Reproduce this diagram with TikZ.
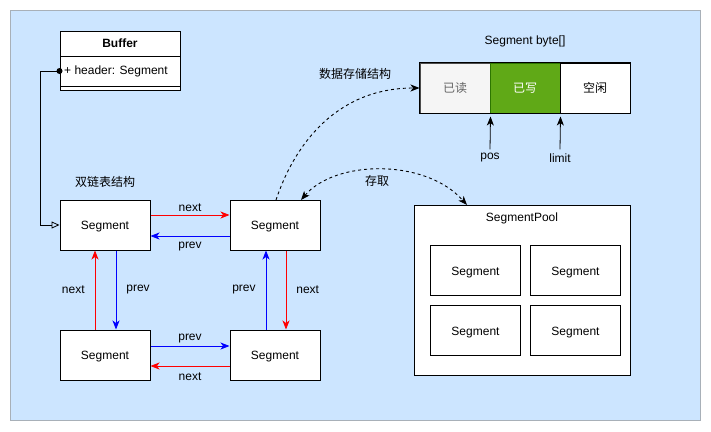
\documentclass[tikz,border=0pt]{standalone}
\usepackage{fontspec}
\setmainfont{Liberation Sans}
\newfontfamily\cjk{Noto Sans CJK SC}
\usetikzlibrary{arrows.meta,calc}
\definecolor{bgblue}{HTML}{CCE5FF}
\definecolor{bgline}{HTML}{A8B0B8}
\definecolor{readfill}{HTML}{F5F5F5}
\definecolor{readtext}{HTML}{666666}
\definecolor{wfill}{HTML}{60A917}
\definecolor{wline}{HTML}{2D7600}
\begin{document}
\begin{tikzpicture}[x=1pt,y=-1pt,
  every node/.style={font=\fontsize{12}{14}\selectfont},
  seg/.style={draw,fill=white,line width=1pt,minimum width=90pt,minimum height=50pt,inner sep=0pt,text height=10.5pt,text depth=1pt},
  cell/.style={draw,line width=1pt,minimum width=70pt,minimum height=50pt,inner sep=0pt,text height=10.5pt,text depth=1pt},
  lbl/.style={inner sep=1pt},
  atip/.style={-{Stealth[length=9pt,width=7pt,inset=2.5pt]}},
  dtip/.style={{Stealth[length=9pt,width=7pt,inset=2.5pt]}-{Stealth[length=9pt,width=7pt,inset=2.5pt]}},
  rl/.style={red,line width=0.8pt,atip},
  bl/.style={blue,line width=0.8pt,atip},
  dashline/.style={dash pattern=on 3pt off 3pt,line width=0.9pt}
]
\useasboundingbox (0,0) rectangle (711,431);
\node[draw=bgline,fill=bgblue,line width=1pt,minimum width=690pt,minimum height=410pt,inner sep=0pt] (bg) at (355,215) {};

% Buffer class
\node[draw,fill=white,line width=1pt,minimum width=120pt,minimum height=25pt,inner sep=0pt,font=\fontsize{12}{14}\selectfont\bfseries] (bufhead) at (120,43.5) {Buffer};
\node[draw,fill=white,line width=1pt,minimum width=120pt,minimum height=30pt,inner sep=0pt] (bufattr) at (120,71) {};
\node[lbl,anchor=west] (attrtext) at (63,71.5) {+ header: Segment};
\node[draw,fill=white,line width=1pt,minimum width=120pt,minimum height=4pt,inner sep=0pt] (bufsep) at (120,88) {};

% Segments
\node[seg] (s1) at (105,225) {Segment};
\node[seg] (s2) at (275,225) {Segment};
\node[seg] (s3) at (105,355) {Segment};
\node[seg] (s4) at (275,355) {Segment};

\node[lbl] (dll) at (105,182) {\cjk 双链表结构};

% buffer -> s1
\draw[line width=0.8pt,-{Triangle[open,length=8pt,width=7pt]}] (bufattr.west) -- ++(-19,0) |- (s1.west);
\fill (bufattr.west) circle (3);

% horizontal top
\draw[rl] ([yshift=10pt]s1.east) -- node[lbl,above=2pt,black] (n1) {next} ([yshift=10pt]s2.west);
\draw[bl] ([yshift=-11pt]s2.west) -- node[lbl,below=5pt,black] (p1) {prev} ([yshift=-11pt]s1.east);
% vertical left
\draw[rl] ([xshift=-10pt]s3.north) -- node[lbl,left=9pt,black] (n2) {next} ([xshift=-10pt]s1.south);
\draw[bl] ([xshift=11pt]s1.south) -- node[lbl,right=9pt,black] (p2) {prev} ([xshift=11pt]s3.north);
% vertical right
\draw[bl] ([xshift=-9pt]s4.north) -- node[lbl,left=9pt,black] (p3) {prev} ([xshift=-9pt]s2.south);
\draw[rl] ([xshift=11pt]s2.south) -- node[lbl,right=9pt,black] (n3) {next} ([xshift=11pt]s4.north);
% horizontal bottom
\draw[bl] ([yshift=9pt]s3.east) -- node[lbl,above=2pt,black] (p4) {prev} ([yshift=9pt]s4.west);
\draw[rl] ([yshift=-11pt]s4.west) -- node[lbl,below=5pt,black] (n4) {next} ([yshift=-11pt]s3.east);

% Segment byte[] array
\node[lbl] (arrt) at (525,41) {Segment byte[]};
\node[cell,draw=black!70,fill=readfill,text=readtext] (r1) at (455,88) {\cjk 已读};
\node[cell,draw=wline,fill=wfill,text=white] (r2) at (525,88) {\cjk 已写};
\node[cell,draw=black,fill=white] (r3) at (595,88) {\cjk 空闲};
\draw[draw=black,line width=1pt] (r1.north west) rectangle (r3.south east);

\node[lbl] (pos) at (490,158) {pos};
\node[lbl] (lim) at (560,158) {limit};
\draw[line width=0.8pt,atip] ([yshift=3pt]pos.north) -- ([yshift=-3pt]r1.south east);
\draw[line width=0.8pt,atip] ([yshift=3pt]lim.north) -- ([yshift=-3pt]r2.south east);

\node[lbl] (dst) at (355,74) {\cjk 数据存储结构};
\coordinate (c1) at (276,200);
\draw[dashline,atip] (c1) .. controls (296,140) and (340,88) .. (r1.west);

% SegmentPool
\node[draw,fill=white,line width=1pt,minimum width=216pt,minimum height=170pt,inner sep=0pt] (pool) at (522,290) {};
\node[lbl] (pt) at (522,218) {SegmentPool};
\node[seg] (q1) at (475.5,270.5) {Segment};
\node[seg] (q2) at (575.5,270.5) {Segment};
\node[seg] (q3) at (475.5,330.5) {Segment};
\node[seg] (q4) at (575.5,330.5) {Segment};

\coordinate (c2) at (301,200);
\coordinate (c3) at (467,205);
\draw[dashline,dtip] (c2) .. controls (335,160) and (425,158) .. (c3);
\node[lbl] (cq) at (377,181) {\cjk 存取};
\end{tikzpicture}
\end{document}
